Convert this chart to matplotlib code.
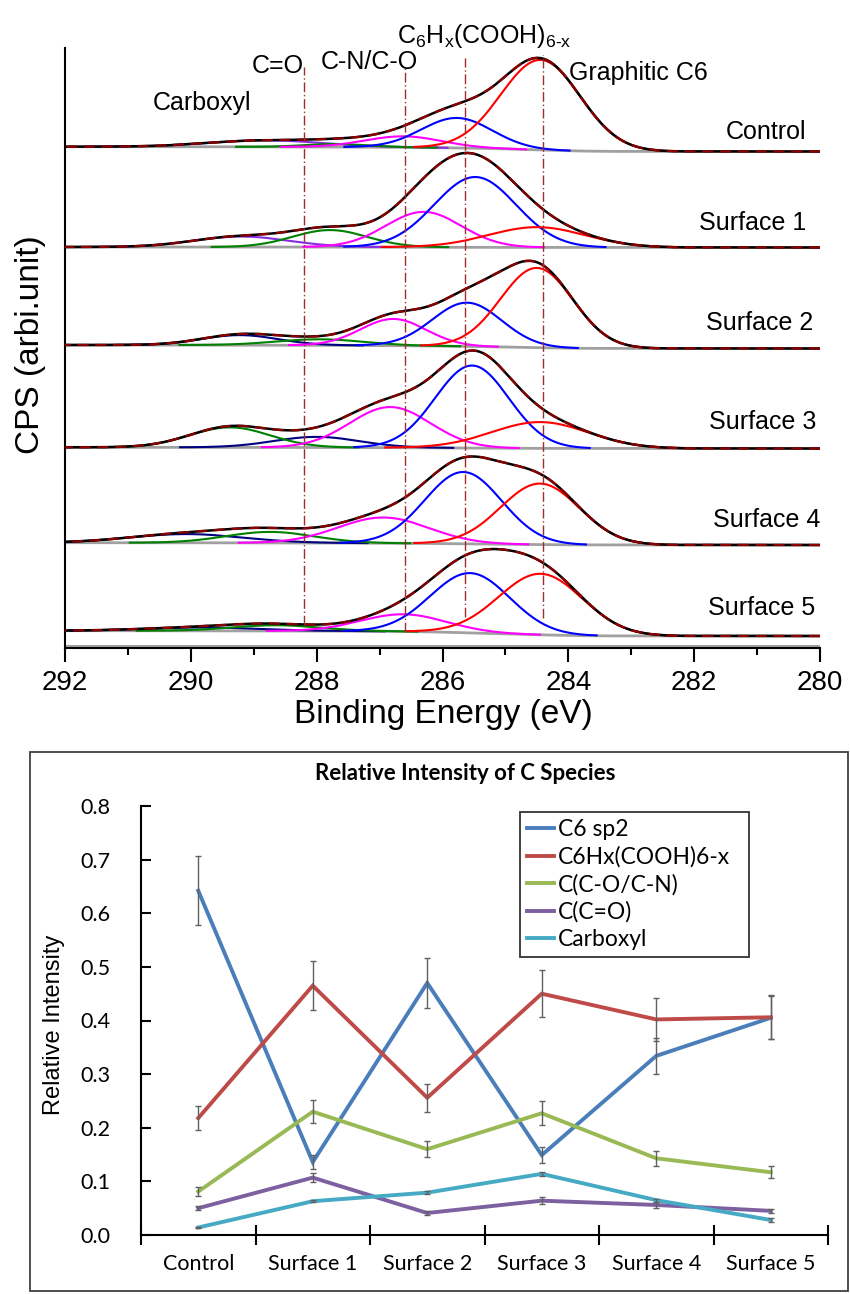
import numpy as np
import matplotlib
matplotlib.use('Agg')
import matplotlib.pyplot as plt
from matplotlib.patches import Rectangle

plt.rcParams['font.family'] = ['Liberation Sans', 'DejaVu Sans']
plt.rcParams['mathtext.fontset'] = 'custom'
plt.rcParams['mathtext.rm'] = 'Liberation Sans'
plt.rcParams['mathtext.it'] = 'Liberation Sans'

# ---------------- XPS C1s spectra (fitted components) ----------------
spectra = ['Control', 'Surface 1', 'Surface 2', 'Surface 3', 'Surface 4', 'Surface 5']
# baseline level (CPS, arbitrary) at the high-BE and low-BE ends
base_high = [501.3, 401.0, 303.0, 200.7, 105.3, 17.3]
base_low = [496.5, 400.5, 299.5, 199.5, 103.0, 12.0]

# Graphitic C6 (red)
graph_center = [284.44, 284.50, 284.50, 284.45, 284.45, 284.44]
graph_height = [90.0, 20.3, 79.7, 26.3, 61.0, 61.0]
graph_sigma = [0.63, 0.77, 0.575, 0.77, 0.625, 0.665]
# C6Hx(COOH)6-x (blue)
c6hx_center = [285.77, 285.48, 285.61, 285.53, 285.67, 285.56]
c6hx_height = [30.0, 70.3, 43.7, 82.5, 71.8, 59.7]
c6hx_sigma = [0.56, 0.65, 0.55, 0.585, 0.61, 0.63]
# C-N / C-O (magenta)
cnco_center = [286.62, 286.30, 286.78, 286.83, 286.94, 286.62]
cnco_height = [11.0, 35.3, 26.7, 40.6, 25.7, 17.2]
cnco_sigma = [0.61, 0.60, 0.52, 0.64, 0.72, 0.68]
# green component
green_center = [287.68, 287.79, 287.95, 289.38, 288.74, 288.63]
green_height = [3.0, 17.0, 6.0, 20.0, 11.0, 5.7]
green_sigma = [0.50, 0.59, 0.70, 0.64, 0.70, 0.70]
# fifth component (purple / navy)
fifth_center = [288.80, 289.20, 289.22, 288.00, 290.07, 289.80]
fifth_height = [6.5, 10.5, 10.0, 10.6, 8.7, 3.3]
fifth_sigma = [0.90, 0.75, 0.61, 0.68, 0.90, 0.90]
fifth_color = ['#8a2be2', '#8a2be2', '#000080', '#000080', '#000080', '#000080']

ref_lines = [288.2, 286.6, 285.65, 284.4]
ref_top = [581, 581, 590, 593]
ref_bottom = [23, 16, 31, 30]

# ---------------- Relative intensity chart ----------------
categories = ['Control', 'Surface 1', 'Surface 2', 'Surface 3', 'Surface 4', 'Surface 5']
c6_sp2 = [0.642, 0.136, 0.470, 0.149, 0.334, 0.405]
c6_sp2_err = [0.064, 0.013, 0.047, 0.015, 0.033, 0.040]
c6hx = [0.218, 0.465, 0.256, 0.450, 0.402, 0.406]
c6hx_err = [0.022, 0.046, 0.026, 0.044, 0.040, 0.041]
c_co_cn = [0.081, 0.230, 0.160, 0.227, 0.143, 0.117]
c_co_cn_err = [0.009, 0.022, 0.015, 0.022, 0.014, 0.011]
c_c_o = [0.050, 0.107, 0.041, 0.064, 0.056, 0.045]
c_c_o_err = [0.004, 0.008, 0.004, 0.006, 0.005, 0.004]
carboxyl = [0.014, 0.063, 0.079, 0.114, 0.065, 0.028]
carboxyl_err = [0.001, 0.002, 0.003, 0.004, 0.003, 0.003]

W, H = 850, 1294
fig = plt.figure(figsize=(W / 100, H / 100), dpi=100)


def fx(px):
    return px / W


def fy(py):
    return 1 - py / H


# ================= Top panel =================
ax1 = fig.add_axes([fx(65), fy(648), fx(820) - fx(65), fy(48) - fy(648)])
ax1.set_xlim(292, 280)
ax1.set_ylim(0, 600)

be = np.linspace(280, 292, 1201)


def gauss(c, h, s):
    return h * np.exp(-(be - c) ** 2 / (2 * s ** 2))


for i in range(len(spectra)):
    comps = [
        (fifth_center[i], fifth_height[i], fifth_sigma[i], fifth_color[i]),
        (green_center[i], green_height[i], green_sigma[i], '#008000'),
        (cnco_center[i], cnco_height[i], cnco_sigma[i], '#ff00ff'),
        (c6hx_center[i], c6hx_height[i], c6hx_sigma[i], '#0000ff'),
        (graph_center[i], graph_height[i], graph_sigma[i], '#ff0000'),
    ]
    total = np.zeros_like(be)
    for c, h, s, col in comps:
        total += gauss(c, h, s)
    cum = np.cumsum(total) / total.sum()
    bg = base_low[i] + (base_high[i] - base_low[i]) * cum
    ax1.plot(be, bg, color='#a0a0a0', lw=2.0, zorder=2)
    for c, h, s, col in comps:
        m = np.abs(be - c) <= 3.2 * s
        ax1.plot(be[m], (bg + gauss(c, h, s))[m], color=col, lw=1.5, zorder=3)
    ax1.plot(be, bg + total, color='black', lw=1.8, zorder=4)
    ax1.plot(be, bg + total, color='#8b0000', lw=1.6, ls=(0, (5, 3)), zorder=5)

for e, t, b in zip(ref_lines, ref_top, ref_bottom):
    ax1.plot([e, e], [b, t], color='#9b2d2d', lw=1.0, ls=(0, (7, 2, 1, 2)), zorder=6)

ax1.axhline(2.5, color='#a0a0a0', lw=1.5, zorder=1)

for sp in ['top', 'right']:
    ax1.spines[sp].set_visible(False)
ax1.spines['left'].set_linewidth(1.5)
ax1.spines['bottom'].set_linewidth(1.5)
ax1.set_yticks([])
ax1.set_xticks(np.arange(280, 293, 2))
ax1.set_xticks(np.arange(281, 292, 2), minor=True)
ax1.tick_params(axis='x', which='major', length=10, width=1.5, direction='out',
                labelsize=20, pad=6)
ax1.tick_params(axis='x', which='minor', length=5, width=1.5, direction='out')

fig.text(fx(443), fy(715), 'Binding Energy (eV)', fontsize=24, ha='center', va='center')
fig.text(fx(31), fy(345), 'CPS (arbi.unit)', fontsize=24, ha='center', va='center',
         rotation=90)

fs_lab = 18
fig.text(fx(202), fy(103), 'Carboxyl', fontsize=fs_lab, ha='center', va='center')
fig.text(fx(278), fy(66), 'C=O', fontsize=fs_lab, ha='center', va='center')
fig.text(fx(369), fy(62), 'C-N/C-O', fontsize=fs_lab, ha='center', va='center')
fig.text(fx(484), fy(36), r'C$_\mathregular{6}$H$_\mathregular{x}$(COOH)$_\mathregular{6‐x}$',
         fontsize=fs_lab, ha='center', va='center')
fig.text(fx(638), fy(73), 'Graphitic C6', fontsize=fs_lab, ha='center', va='center')
label_pos = [(766, 132), (753, 223), (760, 323), (763, 422), (767, 520), (762, 608)]
for name, (px, py) in zip(spectra, label_pos):
    fig.text(fx(px), fy(py), name, fontsize=fs_lab, ha='center', va='center')

# ================= Bottom panel =================
fig.patches.append(Rectangle((fx(30), fy(1291)), fx(848) - fx(30), fy(752) - fy(1291),
                             transform=fig.transFigure, fill=False,
                             edgecolor='#404040', lw=1.3))

ax2 = fig.add_axes([fx(141), fy(1235), fx(828) - fx(141), fy(806) - fy(1235)])
ax2.set_xlim(0, 6)
ax2.set_ylim(0, 0.8)
xs = np.arange(len(categories)) + 0.5

series = [
    ('C6 sp2', c6_sp2, c6_sp2_err, '#4a7ebb'),
    ('C6Hx(COOH)6-x', c6hx, c6hx_err, '#be4b48'),
    ('C(C-O/C-N)', c_co_cn, c_co_cn_err, '#98b954'),
    ('C(C=O)', c_c_o, c_c_o_err, '#7d60a0'),
    ('Carboxyl', carboxyl, carboxyl_err, '#46aac5'),
]
handles = []
for name, vals, err, col in series:
    ln, = ax2.plot(xs, vals, color=col, lw=2.8, label=name, solid_joinstyle='miter')
    ax2.errorbar(xs, vals, yerr=err, fmt='none', ecolor='#606060', elinewidth=1.0,
                 capsize=2.5, capthick=1.0)
    handles.append(ln)

for sp in ['top', 'right']:
    ax2.spines[sp].set_visible(False)
ax2.spines['left'].set_linewidth(1.5)
ax2.spines['bottom'].set_linewidth(1.5)

ax2.set_xticks(np.arange(0, 7))
ax2.set_xticklabels([])
ax2.set_xticks(xs, minor=True)
ax2.set_xticklabels(categories, minor=True, family='Lato', fontsize=15.5)
ax2.tick_params(axis='x', which='major', direction='inout', length=15, width=1.5)
ax2.tick_params(axis='x', which='minor', length=0, pad=14)
yt = np.arange(0, 0.81, 0.1)
ax2.set_yticks(yt)
ax2.set_yticklabels([f'{v:.1f}' for v in yt], family='Lato', fontsize=15.5)
ax2.tick_params(axis='y', direction='in', length=7, width=1.5, pad=22)

fig.text(fx(54), fy(1025), 'Relative Intensity', fontsize=17, ha='center', va='center',
         rotation=90)
fig.text(fx(465), fy(773), 'Relative Intensity of C Species', family='Lato',
         fontweight='bold', fontsize=16, ha='center', va='center')

leg = ax2.legend(handles=handles, loc='upper left',
                 bbox_to_anchor=(fx(520), fy(955), fx(749) - fx(520), fy(812) - fy(955)),
                 bbox_transform=fig.transFigure, mode='expand',
                 prop={'family': 'Lato', 'size': 16.5},
                 frameon=True, fancybox=False, edgecolor='black',
                 handlelength=1.2, handletextpad=0.15, labelspacing=0.27,
                 borderpad=0.3, borderaxespad=0)
leg.get_frame().set_linewidth(1.3)

fig.savefig('out.png', dpi=100)
